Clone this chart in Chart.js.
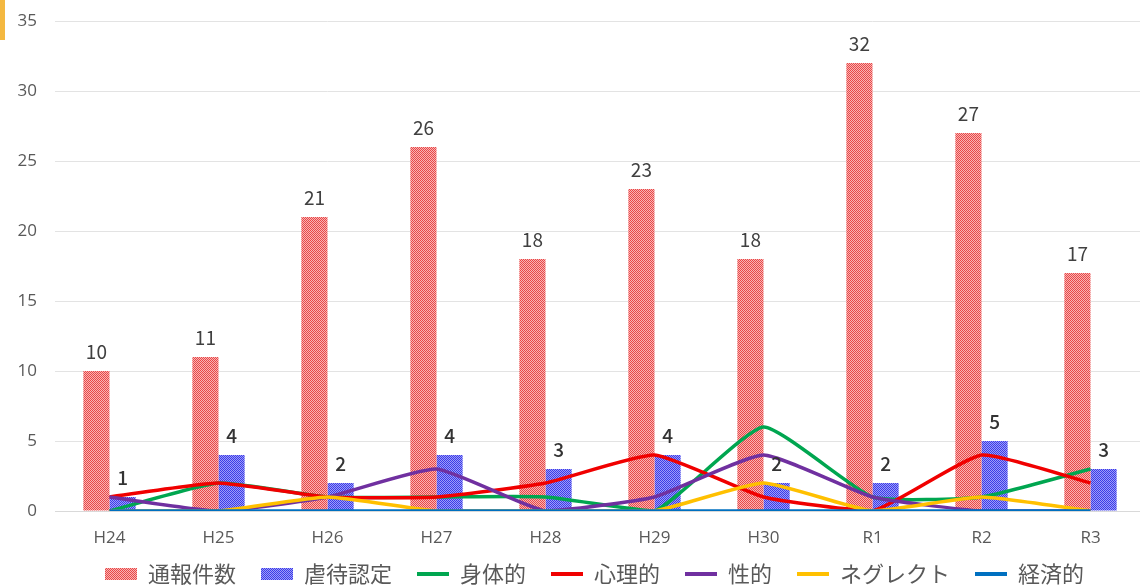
<!DOCTYPE html>
<html>
<head>
<meta charset="utf-8">
<script src="https://cdn.jsdelivr.net/npm/chart.js@4"></script>
<style>
  html, body { margin: 0; padding: 0; background: #ffffff; overflow: hidden; }
  #wrap { position: relative; width: 1145px; height: 587px; }
  #strip { position: absolute; left: 0; top: 0; width: 5px; height: 40px; background: #F4B840; }
</style>
</head>
<body>
<div id="wrap"><canvas id="c" width="1145" height="587"></canvas><div id="strip"></div></div>
<script>
const categories = ['H24','H25','H26','H27','H28','H29','H30','R1','R2','R3'];
const reports   = [10, 11, 21, 26, 18, 23, 18, 32, 27, 17];
const certified = [1, 4, 2, 4, 3, 4, 2, 2, 5, 3];
const physical  = [0, 2, 1, 1, 1, 0, 6, 1, 1, 3];
const psych     = [1, 2, 1, 1, 2, 4, 1, 0, 4, 2];
const sexual    = [1, 0, 1, 3, 0, 1, 4, 1, 0, 0];
const neglect   = [0, 0, 1, 0, 0, 0, 2, 0, 1, 0];
const economic  = [0, 0, 0, 0, 0, 0, 0, 0, 0, 0];
const yTicks    = [0, 5, 10, 15, 20, 25, 30, 35];

function makePattern(light, dark) {
  const p = document.createElement('canvas');
  p.width = 2; p.height = 2;
  const g = p.getContext('2d');
  g.fillStyle = light; g.fillRect(0, 0, 2, 2);
  g.fillStyle = dark;
  g.fillRect(0, 0, 1, 1); g.fillRect(1, 1, 1, 1);
  return document.getElementById('c').getContext('2d').createPattern(p, 'repeat');
}
const redPat = makePattern('#F9B4B4', '#E84848');
const bluePat = makePattern('#9C9CFA', '#3C3CE6');

const FONT = "'Noto Sans CJK JP', 'Noto Sans', sans-serif";
const TXT = '#595959';

const barLabels = {
  id: 'barLabels',
  afterDatasetsDraw(chart) {
    const ctx = chart.ctx;
    ctx.save();
    ctx.textAlign = 'center';
    ctx.textBaseline = 'bottom';
    [0, 1].forEach(di => {
      const meta = chart.getDatasetMeta(di);
      const data = chart.data.datasets[di].data;
      ctx.font = (di === 0 ? '400 19px ' : '500 19px ') + FONT;
      ctx.fillStyle = di === 0 ? '#404040' : '#333333';
      meta.data.forEach((el, i) => {
        ctx.fillText(String(data[i]), el.x, el.y - 10);
      });
    });
    ctx.restore();
  }
};

const legendFix = {
  id: 'legendFix',
  beforeLayout(chart) {
    const lg = chart.legend;
    if (lg && !lg._patched) {
      const orig = lg.fit;
      lg.fit = function () { orig.call(this); this.height = 38; };
      lg._patched = true;
    }
  },
  afterLayout(chart) {
    const lg = chart.legend;
    if (lg) { lg.left += 22; lg.right += 22; lg.top -= 11; }
  }
};

function lineDs(label, data, color, order) {
  return { type: 'line', label, data, borderColor: color, backgroundColor: color,
    borderWidth: 3.5, pointRadius: 0, pointHoverRadius: 0, tension: 0.15, fill: false, order };
}

new Chart(document.getElementById('c'), {
  type: 'bar',
  data: {
    labels: categories,
    datasets: [
      { label: '通報件数', data: reports, backgroundColor: redPat, borderWidth: 0, order: 20,
        categoryPercentage: 0.48, barPercentage: 1.0 },
      { label: '虐待認定', data: certified, backgroundColor: bluePat, borderWidth: 0, order: 20,
        categoryPercentage: 0.48, barPercentage: 1.0 },
      lineDs('身体的', physical, '#00A650', 7),
      lineDs('心理的', psych, '#F00000', 6),
      lineDs('性的', sexual, '#7030A0', 5),
      lineDs('ネグレクト', neglect, '#FFC000', 4),
      lineDs('経済的', economic, '#0070C0', 3)
    ]
  },
  options: {
    responsive: false,
    animation: false,
    layout: { padding: { top: 21, right: 0, left: 0, bottom: 0 } },
    plugins: {
      legend: {
        position: 'bottom',
        labels: {
          font: { family: FONT, size: 22 },
          color: TXT,
          usePointStyle: true,
          pointStyleWidth: 32,
          boxHeight: 12,
          padding: 25,
          generateLabels(chart) {
            return chart.data.datasets.map((ds, i) => ({
              text: ds.label,
              fillStyle: ds.backgroundColor,
              strokeStyle: ds.type === 'line' ? ds.borderColor : 'rgba(0,0,0,0)',
              lineWidth: ds.type === 'line' ? 4 : 0,
              pointStyle: ds.type === 'line' ? 'line' : 'rect',
              fontColor: TXT,
              hidden: false,
              datasetIndex: i
            }));
          }
        }
      },
      tooltip: { enabled: false },
      title: { display: false }
    },
    scales: {
      x: {
        grid: { display: false, drawTicks: false },
        border: { display: true, color: '#D9D9D9', width: 1 },
        ticks: { color: TXT, font: { family: "'Open Sans', sans-serif", size: 17 }, padding: 17 },
        afterFit(s) { s.height = 38; s.paddingLeft = 0; s.paddingRight = 0; }
      },
      y: {
        min: 0, max: 35,
        afterBuildTicks(s) { s.ticks = yTicks.map(v => ({ value: v })); },
        grid: { color: '#E3E3E3', lineWidth: 1, drawTicks: false },
        border: { display: false },
        ticks: { color: TXT, font: { family: "'Open Sans', sans-serif", size: 17 }, padding: 18 },
        afterFit(s) { s.width = 55; s.paddingTop = 0; s.paddingBottom = 0; }
      }
    }
  },
  plugins: [barLabels, legendFix]
});
</script>
</body>
</html>
